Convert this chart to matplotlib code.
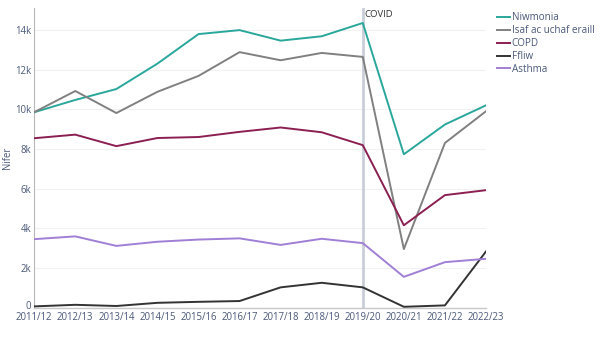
import matplotlib
matplotlib.use("Agg")
import matplotlib.pyplot as plt
from matplotlib.ticker import FuncFormatter
from matplotlib.transforms import ScaledTranslation

years = ["2011/12", "2012/13", "2013/14", "2014/15", "2015/16", "2016/17",
         "2017/18", "2018/19", "2019/20", "2020/21", "2021/22", "2022/23"]

niwmonia = [9850, 10470, 11020, 12300, 13790, 13990, 13460, 13680, 14350, 7730, 9230, 10200]
isaf = [9850, 10920, 9810, 10880, 11680, 12880, 12470, 12840, 12640, 2950, 8300, 9900]
copd = [8540, 8720, 8140, 8550, 8600, 8860, 9080, 8840, 8190, 4150, 5670, 5920]
ffliw = [60, 140, 80, 240, 290, 330, 1020, 1250, 1020, 40, 110, 2830]
asthma = [3450, 3590, 3110, 3320, 3430, 3490, 3160, 3470, 3250, 1550, 2290, 2460]

series = [
    ("Niwmonia", niwmonia, "#2aa79b"),
    ("Isaf ac uchaf eraill", isaf, "#808080"),
    ("COPD", copd, "#8c1f52"),
    ("Ffliw", ffliw, "#333333"),
    ("Asthma", asthma, "#a07fd6"),
]

covid_year = "2019/20"
yticks = [0, 2000, 4000, 6000, 8000, 10000, 12000, 14000]

plt.rcParams["font.family"] = ["Open Sans", "DejaVu Sans"]
tick_color = "#4a5878"

fig = plt.figure(figsize=(6.0, 3.38), dpi=100)
ax = fig.add_axes([0.057, 0.09, 0.753, 0.886])

x = list(range(len(years)))
for name, vals, col in series:
    ax.plot(x, vals, color=col, lw=1.4, label=name, zorder=3)

cx = years.index(covid_year)
ax.axvline(cx, color="#c9ced8", lw=2.0, zorder=2)
ax.text(cx + 0.03, 15000, "COVID", fontsize=6.8, color="#333333",
        va="top", ha="left")

ax.set_xlim(0, len(years) - 1)
ax.set_ylim(0, 15100)
ax.set_xticks(x)
ax.set_xticklabels(years)
ax.set_yticks(yticks)
ax.yaxis.set_major_formatter(FuncFormatter(lambda v, p: "0" if v == 0 else f"{int(v/1000)}k"))
ax.grid(axis="y", color="#f1f1f1", lw=0.8, zorder=0)
ax.set_axisbelow(True)

ax.tick_params(axis="both", length=0, labelsize=6.9, colors=tick_color)
ax.tick_params(axis="y", pad=2)
ax.tick_params(axis="x", pad=3.5)
for s in ["top", "right"]:
    ax.spines[s].set_visible(False)
ax.spines["left"].set_color("#b8b8b8")
ax.spines["left"].set_linewidth(0.8)
ax.spines["bottom"].set_color("#c8c8c8")
ax.spines["bottom"].set_linewidth(1.0)

# lift the zero label a touch so it clears the first year label
zero_lbl = ax.get_yticklabels()[0]
zero_lbl.set_transform(zero_lbl.get_transform() + ScaledTranslation(0, 2 / 72, fig.dpi_scale_trans))

ax.set_ylabel("Nifer", fontsize=6.9, color=tick_color)
ax.yaxis.set_label_coords(-0.047, 0.5)

leg = ax.legend(loc="upper left", bbox_to_anchor=(1.015, 1.0), frameon=False,
                fontsize=7.1, handlelength=1.3, handletextpad=0.2,
                labelspacing=0.2, borderaxespad=0)
for t in leg.get_texts():
    t.set_color(tick_color)

fig.savefig("out.png", dpi=100)
